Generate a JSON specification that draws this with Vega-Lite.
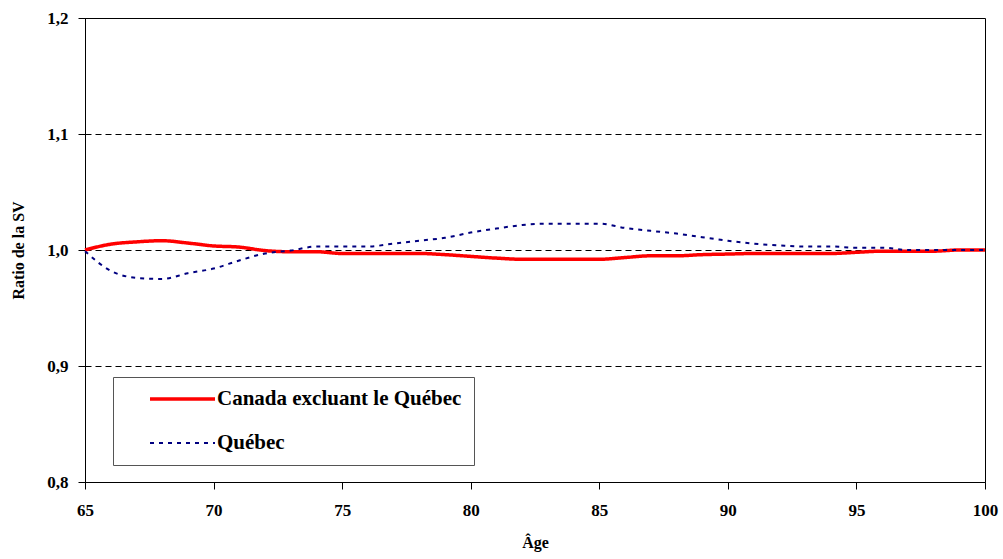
{
  "$schema": "https://vega.github.io/schema/vega-lite/v6.json",
  "width": 900,
  "height": 464,
  "autosize": {"type": "none"},
  "padding": {"left": 85, "top": 18, "right": 18, "bottom": 77},
  "background": "white",
  "config": {
    "view": {"stroke": "#000000", "strokeWidth": 1},
    "font": "Liberation Serif",
    "axis": {
      "labelFont": "Liberation Serif",
      "labelFontSize": 17,
      "labelFontWeight": "bold",
      "labelColor": "#000000",
      "titleFont": "Liberation Serif",
      "titleFontSize": 16,
      "titleFontWeight": "bold",
      "titleColor": "#000000",
      "domainColor": "#000000",
      "tickColor": "#000000"
    }
  },
  "data": {
    "values": [
      {"age": 65, "serie": "Canada excluant le Québec", "ratio": 1.000},
      {"age": 66, "serie": "Canada excluant le Québec", "ratio": 1.005},
      {"age": 67, "serie": "Canada excluant le Québec", "ratio": 1.007},
      {"age": 68, "serie": "Canada excluant le Québec", "ratio": 1.008},
      {"age": 69, "serie": "Canada excluant le Québec", "ratio": 1.006},
      {"age": 70, "serie": "Canada excluant le Québec", "ratio": 1.0035},
      {"age": 71, "serie": "Canada excluant le Québec", "ratio": 1.0025},
      {"age": 72, "serie": "Canada excluant le Québec", "ratio": 0.9995},
      {"age": 73, "serie": "Canada excluant le Québec", "ratio": 0.9985},
      {"age": 74, "serie": "Canada excluant le Québec", "ratio": 0.9985},
      {"age": 75, "serie": "Canada excluant le Québec", "ratio": 0.997},
      {"age": 76, "serie": "Canada excluant le Québec", "ratio": 0.997},
      {"age": 77, "serie": "Canada excluant le Québec", "ratio": 0.997},
      {"age": 78, "serie": "Canada excluant le Québec", "ratio": 0.997},
      {"age": 79, "serie": "Canada excluant le Québec", "ratio": 0.996},
      {"age": 80, "serie": "Canada excluant le Québec", "ratio": 0.9945},
      {"age": 81, "serie": "Canada excluant le Québec", "ratio": 0.993},
      {"age": 82, "serie": "Canada excluant le Québec", "ratio": 0.992},
      {"age": 83, "serie": "Canada excluant le Québec", "ratio": 0.992},
      {"age": 84, "serie": "Canada excluant le Québec", "ratio": 0.992},
      {"age": 85, "serie": "Canada excluant le Québec", "ratio": 0.992},
      {"age": 86, "serie": "Canada excluant le Québec", "ratio": 0.9935},
      {"age": 87, "serie": "Canada excluant le Québec", "ratio": 0.995},
      {"age": 88, "serie": "Canada excluant le Québec", "ratio": 0.995},
      {"age": 89, "serie": "Canada excluant le Québec", "ratio": 0.996},
      {"age": 90, "serie": "Canada excluant le Québec", "ratio": 0.9965},
      {"age": 91, "serie": "Canada excluant le Québec", "ratio": 0.997},
      {"age": 92, "serie": "Canada excluant le Québec", "ratio": 0.997},
      {"age": 93, "serie": "Canada excluant le Québec", "ratio": 0.997},
      {"age": 94, "serie": "Canada excluant le Québec", "ratio": 0.997},
      {"age": 95, "serie": "Canada excluant le Québec", "ratio": 0.998},
      {"age": 96, "serie": "Canada excluant le Québec", "ratio": 0.999},
      {"age": 97, "serie": "Canada excluant le Québec", "ratio": 0.999},
      {"age": 98, "serie": "Canada excluant le Québec", "ratio": 0.999},
      {"age": 99, "serie": "Canada excluant le Québec", "ratio": 1.000},
      {"age": 100, "serie": "Canada excluant le Québec", "ratio": 1.000},
      {"age": 65, "serie": "Québec", "ratio": 0.999},
      {"age": 66, "serie": "Québec", "ratio": 0.982},
      {"age": 67, "serie": "Québec", "ratio": 0.976},
      {"age": 68, "serie": "Québec", "ratio": 0.975},
      {"age": 69, "serie": "Québec", "ratio": 0.980},
      {"age": 70, "serie": "Québec", "ratio": 0.984},
      {"age": 71, "serie": "Québec", "ratio": 0.991},
      {"age": 72, "serie": "Québec", "ratio": 0.997},
      {"age": 73, "serie": "Québec", "ratio": 0.9995},
      {"age": 74, "serie": "Québec", "ratio": 1.003},
      {"age": 75, "serie": "Québec", "ratio": 1.003},
      {"age": 76, "serie": "Québec", "ratio": 1.003},
      {"age": 77, "serie": "Québec", "ratio": 1.0055},
      {"age": 78, "serie": "Québec", "ratio": 1.008},
      {"age": 79, "serie": "Québec", "ratio": 1.0105},
      {"age": 80, "serie": "Québec", "ratio": 1.015},
      {"age": 81, "serie": "Québec", "ratio": 1.0185},
      {"age": 82, "serie": "Québec", "ratio": 1.0215},
      {"age": 83, "serie": "Québec", "ratio": 1.0227},
      {"age": 84, "serie": "Québec", "ratio": 1.0227},
      {"age": 85, "serie": "Québec", "ratio": 1.0227},
      {"age": 86, "serie": "Québec", "ratio": 1.019},
      {"age": 87, "serie": "Québec", "ratio": 1.0165},
      {"age": 88, "serie": "Québec", "ratio": 1.0142},
      {"age": 89, "serie": "Québec", "ratio": 1.011},
      {"age": 90, "serie": "Québec", "ratio": 1.008},
      {"age": 91, "serie": "Québec", "ratio": 1.0055},
      {"age": 92, "serie": "Québec", "ratio": 1.004},
      {"age": 93, "serie": "Québec", "ratio": 1.003},
      {"age": 94, "serie": "Québec", "ratio": 1.003},
      {"age": 95, "serie": "Québec", "ratio": 1.002},
      {"age": 96, "serie": "Québec", "ratio": 1.002},
      {"age": 97, "serie": "Québec", "ratio": 1.000},
      {"age": 98, "serie": "Québec", "ratio": 1.000},
      {"age": 99, "serie": "Québec", "ratio": 1.000},
      {"age": 100, "serie": "Québec", "ratio": 1.000}
    ]
  },
  "mark": {"type": "line", "interpolate": "monotone"},
  "encoding": {
    "x": {
      "field": "age",
      "type": "quantitative",
      "scale": {"domain": [65, 100], "nice": false, "zero": false},
      "axis": {
        "title": "Âge",
        "values": [65, 70, 75, 80, 85, 90, 95, 100],
        "grid": false,
        "tickSize": 7,
        "labelPadding": 13,
        "titlePadding": 16,
        "labelFlush": false
      }
    },
    "y": {
      "field": "ratio",
      "type": "quantitative",
      "scale": {"domain": [0.8, 1.2], "nice": false, "zero": false},
      "axis": {
        "title": "Ratio de la SV",
        "values": [0.8, 0.9, 1.0, 1.1, 1.2],
        "labelExpr": "replace(format(datum.value, '.1f'), '.', ',')",
        "grid": true,
        "gridColor": "#000000",
        "gridDash": [6, 4],
        "gridWidth": 1,
        "tickSize": 7,
        "labelPadding": 10,
        "titlePadding": 20
      }
    },
    "color": {
      "field": "serie",
      "type": "nominal",
      "scale": {"domain": ["Canada excluant le Québec", "Québec"], "range": ["#ff0000", "#000080"]},
      "legend": {
        "title": null,
        "orient": "none",
        "legendX": 28,
        "legendY": 359,
        "fillColor": "#ffffff",
        "strokeColor": "#555555",
        "padding": 12,
        "symbolType": "stroke",
        "symbolSize": 4225,
        "clipHeight": 20,
        "rowPadding": 23,
        "symbolOffset": 23,
        "labelOffset": 0,
        "labelFont": "Liberation Serif",
        "labelFontSize": 21,
        "labelFontWeight": "bold",
        "labelColor": "#000000",
        "labelLimit": 400
      }
    },
    "strokeDash": {
      "field": "serie",
      "type": "nominal",
      "scale": {"domain": ["Canada excluant le Québec", "Québec"], "range": [[1, 0], [4, 5]]},
      "legend": null
    },
    "strokeWidth": {
      "field": "serie",
      "type": "nominal",
      "scale": {"domain": ["Canada excluant le Québec", "Québec"], "range": [3.5, 2]},
      "legend": null
    }
  }
}
